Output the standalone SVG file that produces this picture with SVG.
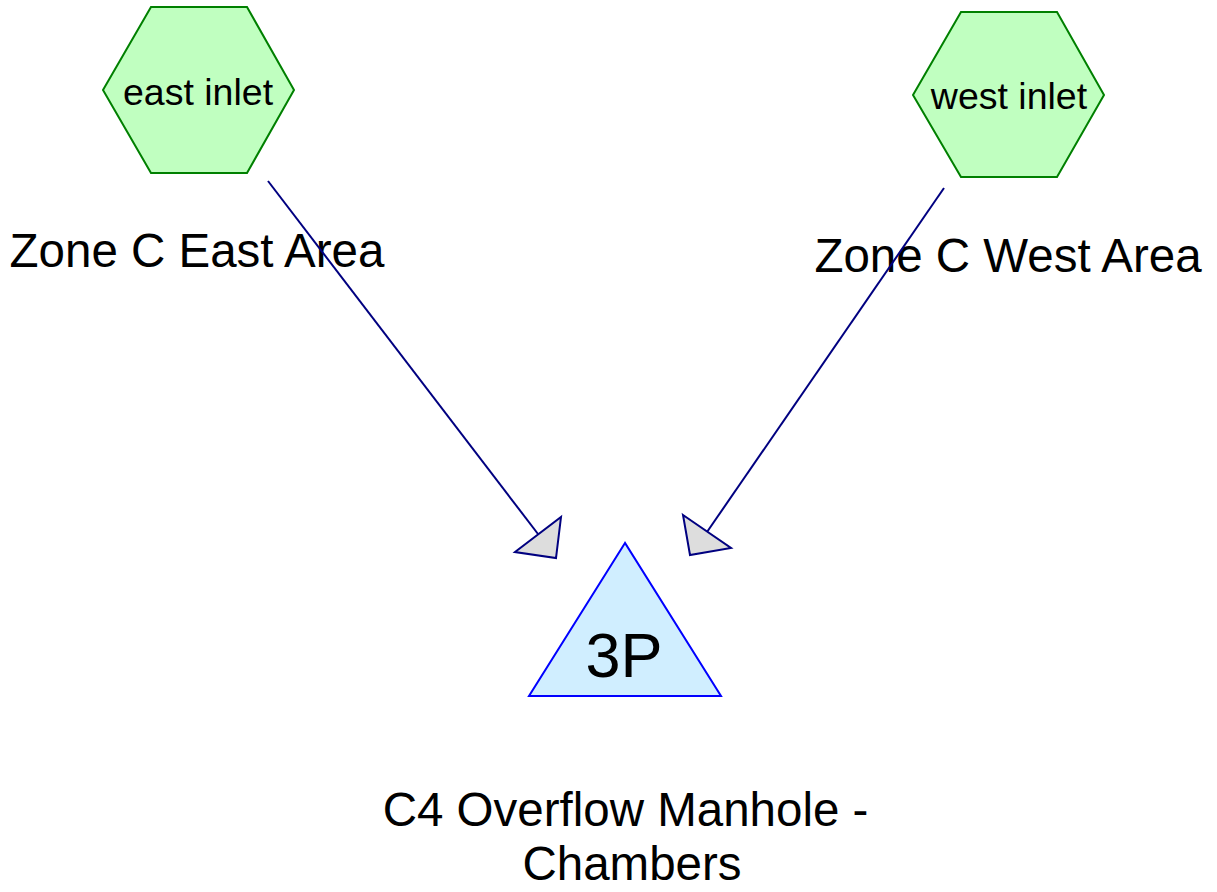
<svg xmlns="http://www.w3.org/2000/svg" width="1217" height="892" viewBox="0 0 1217 892">
<style>
.hex{fill:#c0ffc0;stroke:#008000;stroke-width:2}
.tri{fill:#d0eeff;stroke:#0000ff;stroke-width:2}
.t{font-family:"Liberation Sans",Arial,sans-serif;fill:#000;text-anchor:middle}
.lbl{font-size:47.5px}
.hl{font-size:37.5px}
.edge{stroke:#000080;stroke-width:2;fill:none}
.head{fill:#dddddd;stroke:#000080;stroke-width:2;stroke-linejoin:miter}
</style>
<rect width="1217" height="892" fill="#ffffff"/>
<g id="east-inlet">
<polygon class="hex" points="103,90 151,7 247,7 294,90 247,173 151,173"/>
<text class="t hl" x="198" y="105">east inlet</text>
<text class="t lbl" x="197" y="267">Zone C East Area</text>
</g>
<g id="west-inlet">
<polygon class="hex" points="913,95 961,12 1057,12 1104,95 1057,177 961,177"/>
<text class="t hl" x="1009" y="109">west inlet</text>
<text class="t lbl" x="1008" y="272">Zone C West Area</text>
</g>
<g id="manhole">
<polygon class="tri" points="625,543 529,696 721,696"/>
<text class="t" x="624" y="677" font-size="63">3P</text>
<text class="t lbl" x="625.5" y="826">C4 Overflow Manhole -</text>
<text class="t lbl" x="632" y="880">Chambers</text>
</g>
<g id="connectors">
<line class="edge" x1="268" y1="181" x2="538" y2="534"/>
<polygon class="head" points="515,552 561,517 556,558"/>
<line class="edge" x1="944" y1="188" x2="707" y2="532"/>
<polygon class="head" points="683,515 731,548 690,555"/>
</g>
</svg>
